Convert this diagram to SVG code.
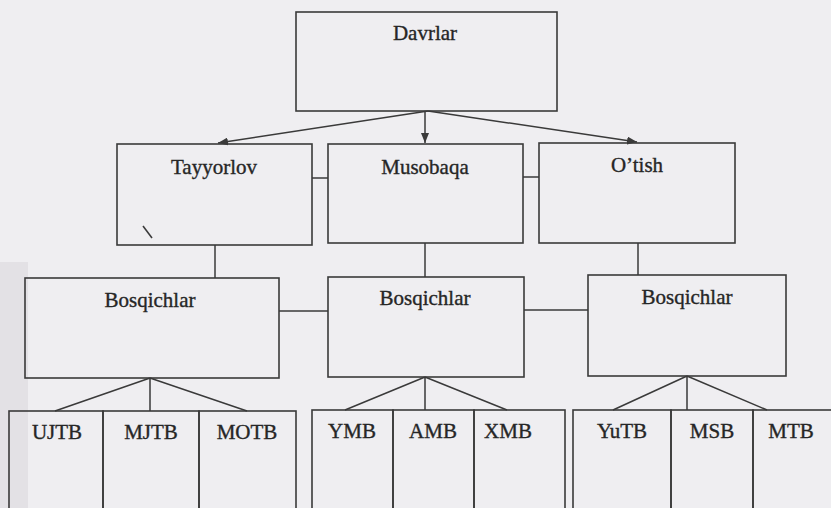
<svg xmlns="http://www.w3.org/2000/svg" width="831" height="508" viewBox="0 0 831 508">
  <style>
    .box { fill: none; stroke: #3a3a3a; stroke-width: 1.6; }
    .edge { fill: none; stroke: #3a3a3a; stroke-width: 1.5; }
    .lbl { font-family: "Liberation Serif", "Times New Roman", serif; font-size: 21px; fill: #262626; stroke: #262626; stroke-width: 0.35; text-anchor: middle; }
  </style>
  <defs>
    <marker id="arrow" viewBox="0 0 10 8" refX="10" refY="4" markerWidth="10" markerHeight="8" markerUnits="userSpaceOnUse" orient="auto">
      <path d="M0,0 L10,4 L0,8 Z" fill="#3a3a3a"/>
    </marker>
  </defs>

  <!-- paper -->
  <rect x="0" y="0" width="831" height="508" fill="#efeef1"/>
  <rect x="0" y="262" width="28" height="246" fill="#e3e1e5"/>

  <!-- connectors -->
  <g id="connectors">
    <line class="edge" x1="428" y1="111" x2="218" y2="143" marker-end="url(#arrow)"/>
    <line class="edge" x1="425" y1="111" x2="425" y2="143" marker-end="url(#arrow)"/>
    <line class="edge" x1="428" y1="111" x2="637" y2="142" marker-end="url(#arrow)"/>

    <line class="edge" x1="312" y1="178" x2="328" y2="178"/>
    <line class="edge" x1="523" y1="177" x2="539" y2="177"/>

    <line class="edge" x1="215" y1="245" x2="215" y2="278"/>
    <line class="edge" x1="425" y1="243" x2="425" y2="277"/>
    <line class="edge" x1="638" y1="243" x2="638" y2="275"/>

    <line class="edge" x1="279" y1="311" x2="328" y2="311"/>
    <line class="edge" x1="524" y1="310" x2="588" y2="310"/>

    <path class="edge" d="M150,378 L55,411 M150,378 L150,411 M150,378 L247,411"/>
    <path class="edge" d="M425,377 L345,410 M425,377 L425,410 M425,377 L507,410"/>
    <path class="edge" d="M687,376 L613,410 M687,376 L687,410 M687,376 L767,410"/>
  </g>

  <g id="davrlar">
    <rect class="box" x="296" y="12" width="261" height="99"/>
    <text class="lbl" x="425" y="40">Davrlar</text>
  </g>

  <g id="tayyorlov">
    <rect class="box" x="117" y="144" width="195" height="101"/>
    <text class="lbl" x="214" y="174">Tayyorlov</text>
    <line class="edge" x1="143" y1="226" x2="152" y2="238"/>
  </g>
  <g id="musobaqa">
    <rect class="box" x="328" y="144" width="195" height="99"/>
    <text class="lbl" x="425" y="174">Musobaqa</text>
  </g>
  <g id="otish">
    <rect class="box" x="539" y="143" width="196" height="100"/>
    <text class="lbl" x="637" y="172">O’tish</text>
  </g>

  <g id="bosqichlar-1">
    <rect class="box" x="25" y="278" width="254" height="100"/>
    <text class="lbl" x="150" y="307">Bosqichlar</text>
  </g>
  <g id="bosqichlar-2">
    <rect class="box" x="328" y="277" width="196" height="100"/>
    <text class="lbl" x="425" y="305">Bosqichlar</text>
  </g>
  <g id="bosqichlar-3">
    <rect class="box" x="588" y="275" width="198" height="101"/>
    <text class="lbl" x="687" y="304">Bosqichlar</text>
  </g>

  <g id="ujtb">
    <rect class="box" x="9" y="411" width="94" height="110"/>
    <text class="lbl" x="57" y="439">UJTB</text>
  </g>
  <g id="mjtb">
    <rect class="box" x="103" y="411" width="96" height="110"/>
    <text class="lbl" x="151" y="439">MJTB</text>
  </g>
  <g id="motb">
    <rect class="box" x="199" y="411" width="97" height="110"/>
    <text class="lbl" x="247" y="439">MOTB</text>
  </g>

  <g id="ymb">
    <rect class="box" x="312" y="410" width="81" height="110"/>
    <text class="lbl" x="352" y="438">YMB</text>
  </g>
  <g id="amb">
    <rect class="box" x="393" y="410" width="81" height="110"/>
    <text class="lbl" x="433" y="438">AMB</text>
  </g>
  <g id="xmb">
    <rect class="box" x="474" y="410" width="91" height="110"/>
    <text class="lbl" x="508" y="438">XMB</text>
  </g>

  <g id="yutb">
    <rect class="box" x="573" y="410" width="98" height="110"/>
    <text class="lbl" x="622" y="438">YuTB</text>
  </g>
  <g id="msb">
    <rect class="box" x="671" y="410" width="82" height="110"/>
    <text class="lbl" x="712" y="438">MSB</text>
  </g>
  <g id="mtb">
    <rect class="box" x="753" y="410" width="90" height="110"/>
    <text class="lbl" x="791" y="438">MTB</text>
  </g>
</svg>
